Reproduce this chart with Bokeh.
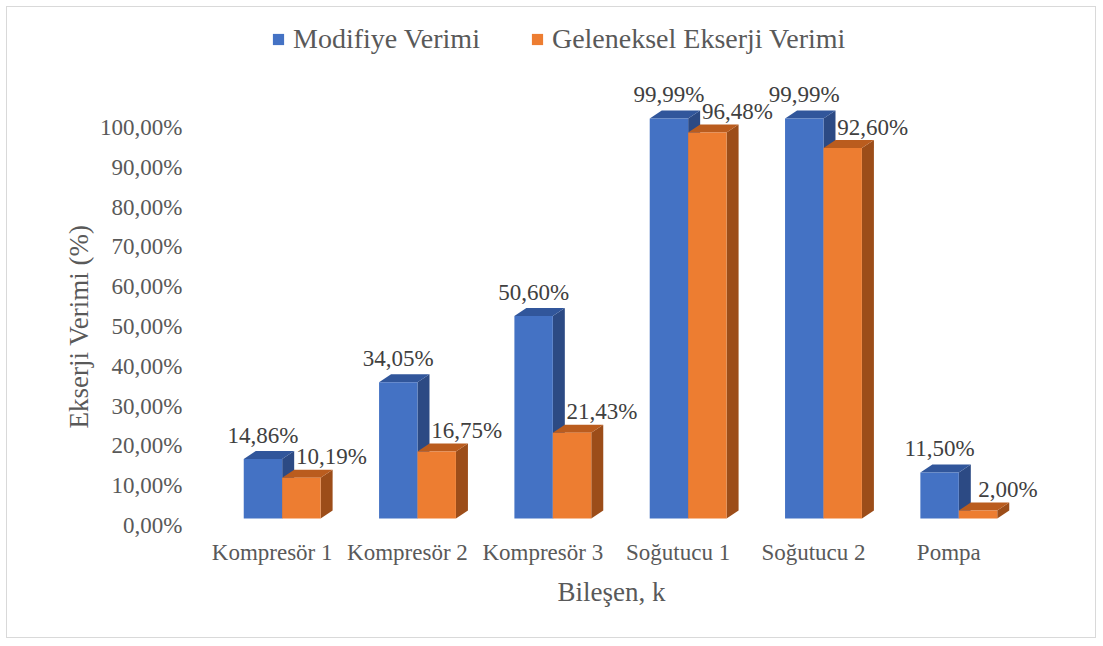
import numpy as np
from bokeh.plotting import figure
from bokeh.models import Range1d, FixedTicker, Legend, LegendItem, Title
from bokeh.core.properties import value
from bokeh.embed import file_html
from bokeh.resources import INLINE

# ---- data ----
categories = ["Kompresör 1", "Kompresör 2", "Kompresör 3", "Soğutucu 1", "Soğutucu 2", "Pompa"]
modifiye = [14.86, 34.05, 50.60, 99.99, 99.99, 11.50]
geleneksel = [10.19, 16.75, 21.43, 96.48, 92.60, 2.00]
series_names = ["Modifiye Verimi", "Geleneksel Ekserji Verimi"]
y_ticks = [0, 10, 20, 30, 40, 50, 60, 70, 80, 90, 100]
x_title = "Bileşen, k"
y_title = "Ekserji Verimi (%)"

FONT = "Liberation Serif"


def pct(v):
    return f"{v:.2f}".replace(".", ",") + "%"


p = figure(width=1088, height=630, output_backend="svg", toolbar_location=None,
           x_range=Range1d(-0.5, 6.025), y_range=Range1d(-0.754, 126.88),
           min_border_left=197, min_border_right=8, min_border_top=13, min_border_bottom=109)
p.margin = (7, 0, 0, 7)
p.styles = {"outline": "1.5px solid #D9D9D9"}
p.extra_y_ranges = {"bars": Range1d(-2.5, 124.5)}
p.xgrid.visible = False
p.ygrid.visible = False
p.outline_line_color = None
p.background_fill_color = "white"
p.border_fill_color = "white"

# axes
p.yaxis.ticker = FixedTicker(ticks=y_ticks)
p.yaxis.major_label_overrides = {t: pct(t) for t in y_ticks}
p.xaxis.ticker = FixedTicker(ticks=list(range(len(categories))))
p.xaxis.major_label_overrides = {i: c for i, c in enumerate(categories)}
for ax in (p.xaxis, p.yaxis):
    ax.axis_line_color = None
    ax.major_tick_line_color = None
    ax.minor_tick_line_color = None
    ax.major_label_text_font = FONT
    ax.major_label_text_font_size = "23px"
    ax.major_label_text_color = "#595959"
p.yaxis.major_label_standoff = 16
p.xaxis.major_label_standoff = 5

# axis titles (placed as titles so they can be centred on the value range)
tx = Title(text=x_title, align="left", offset=353, standoff=14,
           text_font=FONT, text_font_size="27px", text_font_style="normal",
           text_color="#595959")
p.add_layout(tx, "below")
ty = Title(text=y_title, align="left", offset=100, standoff=8,
           text_font=FONT, text_font_size="27px", text_font_style="normal",
           text_color="#595959")
p.add_layout(ty, "left")

# 3D bar geometry (styles)
DX = 12 / 135.33   # depth in x units
DY = 2.0           # depth in bar units (8 px)
W = 0.284
x_idx = np.arange(len(categories))


def draw_bars(vals, left_off, front, top, side):
    v = np.array(vals, dtype=float)
    l = x_idx + left_off
    r = l + W
    p.patches(xs=[[ri, ri + DX, ri + DX, ri] for ri in r],
              ys=[[0, DY, vi + DY, vi] for vi in v],
              fill_color=side, line_color=None, y_range_name="bars")
    p.patches(xs=[[li, ri, ri + DX, li + DX] for li, ri in zip(l, r)],
              ys=[[vi, vi, vi + DY, vi + DY] for vi in v],
              fill_color=top, line_color=None, y_range_name="bars")
    rend = p.quad(left=l, right=r, bottom=0, top=v, fill_color=front,
                  line_color=None, y_range_name="bars")
    return rend, l + W / 2, v


r1, cx1, v1 = draw_bars(modifiye, -0.21, "#4472C4", "#31569B", "#2C4A84")
r2, cx2, v2 = draw_bars(geleneksel, -0.21 + W, "#ED7D31", "#BA5C1E", "#9C4D19")

p.text(x=cx1, y=v1 + DY, text=[pct(v) for v in modifiye], y_range_name="bars",
       text_align="center", text_baseline="middle", y_offset=-16,
       text_font=value(FONT), text_font_size="23px", text_color="#404040")
p.text(x=cx2, y=v2 + DY, text=[pct(v) for v in geleneksel], y_range_name="bars",
       text_align="center", text_baseline="middle", x_offset=30, y_offset=-13,
       text_font=value(FONT), text_font_size="23px", text_color="#404040")

legend = Legend(items=[LegendItem(label=series_names[0], renderers=[r1]),
                       LegendItem(label=series_names[1], renderers=[r2])],
                location=(67, 473), orientation="horizontal", padding=0, spacing=50,
                label_standoff=8, glyph_width=14, glyph_height=14, margin=0,
                label_text_font=FONT, label_text_font_size="28px",
                label_text_color="#595959", border_line_color=None,
                background_fill_alpha=0)
p.add_layout(legend, "center")

open("out.html", "w").write(file_html(p, INLINE))
